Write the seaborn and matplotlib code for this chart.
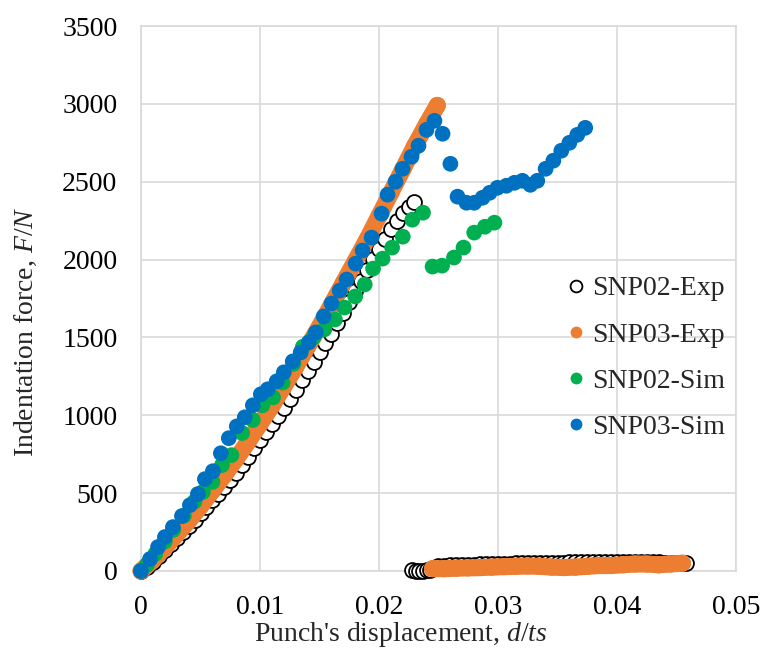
import numpy as np
import pandas as pd
import matplotlib
matplotlib.use("Agg")
import matplotlib.pyplot as plt
import seaborn as sns

# punch test: force vs. normalised displacement, experiment and simulation

sns.set_style("white")
plt.rcParams['font.family'] = ['Liberation Serif', 'DejaVu Serif']
plt.rcParams['mathtext.fontset'] = 'custom'
plt.rcParams['mathtext.it'] = 'Liberation Serif:italic'
plt.rcParams['mathtext.rm'] = 'Liberation Serif'

# SNP02 experiment, loading branch
snp02_exp_x = [0, 0.0005, 0.001, 0.0015, 0.002, 0.0025, 0.003, 0.0035, 0.004, 0.0045,
               0.005, 0.0055, 0.006, 0.0065, 0.007, 0.0075, 0.008, 0.0085, 0.009, 0.0095,
               0.010, 0.0105, 0.011, 0.0115, 0.012, 0.0125, 0.013, 0.0135, 0.014, 0.0145,
               0.015, 0.0155, 0.016, 0.0165, 0.017, 0.0175, 0.018, 0.0185, 0.019, 0.0195,
               0.020, 0.0205, 0.021, 0.0215, 0.022, 0.0225, 0.0229]
snp02_exp_F = [0, 28, 60, 97, 135, 175, 215, 252, 290, 330,
               370, 412, 455, 497, 540, 585, 632, 683, 735, 787,
               840, 893, 945, 995, 1045, 1105, 1165, 1225, 1285, 1345,
               1405, 1465, 1525, 1592, 1660, 1727, 1795, 1865, 1935, 2003,
               2070, 2135, 2195, 2250, 2300, 2340, 2370]
# SNP02 experiment, after failure
snp02_tail_x = [0.0228, 0.0231, 0.0234, 0.0237, 0.0240, 0.0243, 0.0246, 0.0250, 0.0255, 0.0260,
                0.0265, 0.0270, 0.0275, 0.0280, 0.0285, 0.0290, 0.0295, 0.0300, 0.0305, 0.0310,
                0.0315, 0.0320, 0.0325, 0.0330, 0.0335, 0.0340, 0.0345, 0.0350, 0.0355, 0.0360,
                0.0365, 0.0370, 0.0375, 0.0380, 0.0385, 0.0390, 0.0395, 0.0400, 0.0405, 0.0410,
                0.0415, 0.0420, 0.0425, 0.0430, 0.0435, 0.0440, 0.0445, 0.0450, 0.0455, 0.0458]
snp02_tail_F = [5, 3, 2, 2, 4, 8, 20, 32, 34, 36,
                38, 39, 40, 41, 42, 43, 45, 46, 47, 48,
                49, 50, 51, 51, 52, 52, 53, 54, 54, 55,
                55, 56, 57, 57, 58, 58, 59, 59, 58, 58,
                57, 57, 56, 55, 55, 54, 53, 52, 52, 50]

# SNP03 experiment, loading branch
snp03_exp_x = [0, 0.001, 0.002, 0.003, 0.004, 0.005, 0.006, 0.007, 0.008, 0.009,
               0.010, 0.011, 0.012, 0.013, 0.014, 0.015, 0.016, 0.017, 0.018, 0.019,
               0.020, 0.021, 0.022, 0.023, 0.024, 0.0249]
snp03_exp_F = [0, 70, 150, 235, 320, 415, 515, 615, 720, 830,
               945, 1060, 1185, 1310, 1440, 1570, 1710, 1850, 1990, 2130,
               2280, 2430, 2580, 2730, 2870, 2990]
# SNP03 experiment, after failure
snp03_tail_x = [0.0245, 0.0255, 0.0265, 0.0275, 0.0285, 0.0295, 0.0305, 0.0315, 0.0325, 0.0335,
                0.0345, 0.0355, 0.0365, 0.0375, 0.0385, 0.0395, 0.0405, 0.0415, 0.0425, 0.0435,
                0.0445, 0.0455]
snp03_tail_F = [15, 15, 18, 20, 22, 25, 28, 30, 32, 30,
                25, 22, 25, 30, 35, 35, 40, 45, 45, 40,
                45, 50]

# SNP02 simulation
snp02_sim_x = [0, 0.0005, 0.0012, 0.002, 0.0027, 0.0036, 0.0045, 0.0052, 0.006, 0.0068,
               0.0076, 0.0085, 0.0094, 0.0102, 0.0111, 0.0119, 0.0128, 0.0136, 0.0145, 0.0154,
               0.0163, 0.0171, 0.018, 0.0188, 0.0195, 0.0203, 0.0211, 0.022, 0.0228, 0.0237,
               0.0245, 0.0253, 0.0263, 0.0271, 0.028, 0.0289, 0.0297]
snp02_sim_F = [0, 40, 110, 190, 264, 355, 446, 508, 572, 680,
               744, 886, 970, 1064, 1115, 1210, 1330, 1440, 1500, 1551,
               1615, 1692, 1763, 1840, 1942, 2006, 2077, 2147, 2256, 2301,
               1955, 1961, 2013, 2077, 2173, 2211, 2237]

# SNP03 simulation
snp03_sim_x = [0, 0.00076, 0.00143, 0.00201, 0.00268, 0.00344, 0.00411, 0.00478, 0.00537, 0.00604,
               0.00671, 0.00738, 0.00805, 0.00872, 0.0094, 0.01007, 0.01065, 0.0114, 0.012, 0.01275,
               0.01342, 0.0141, 0.01468, 0.01535, 0.01602, 0.0167, 0.01728, 0.01804, 0.01862, 0.01938,
               0.02022, 0.02072, 0.02139, 0.02198, 0.02273, 0.02332, 0.02399, 0.02466, 0.02534, 0.026,
               0.0266, 0.02735, 0.028, 0.0287, 0.0293, 0.02995, 0.0307, 0.03138, 0.03205, 0.03272,
               0.0333, 0.034, 0.03465, 0.03532, 0.036, 0.03666, 0.03733]
snp03_sim_F = [0, 77, 154, 218, 282, 353, 423, 494, 590, 641,
               756, 853, 929, 987, 1064, 1135, 1167, 1218, 1276, 1346,
               1404, 1468, 1532, 1635, 1718, 1801, 1872, 1974, 2058, 2141,
               2295, 2417, 2500, 2583, 2660, 2731, 2833, 2891, 2808, 2615,
               2404, 2365, 2365, 2397, 2429, 2461, 2474, 2493, 2506, 2480,
               2506, 2583, 2635, 2699, 2750, 2801, 2846]

x_ticks = [0, 0.01, 0.02, 0.03, 0.04, 0.05]
x_tick_labels = ['0', '0.01', '0.02', '0.03', '0.04', '0.05']
y_ticks = [0, 500, 1000, 1500, 2000, 2500, 3000, 3500]

black = '#000000'
orange = '#ED7D31'
green = '#00B050'
blue = '#0070C0'
grid_col = '#D9D9D9'

fig = plt.figure(figsize=(7.64, 6.59), dpi=100)
ax = fig.add_axes([141/764, 1 - 571/659, (736-141)/764, (571-26)/659])

ms = 11.3  # marker diameter in points
s = ms**2

# SNP02-Exp: open circles
for xs, fs in [(snp02_exp_x, snp02_exp_F), (snp02_tail_x, snp02_tail_F)]:
    sns.scatterplot(x=xs, y=fs, ax=ax, s=s*0.9, marker='o', facecolor='white',
                    edgecolor=black, linewidth=1.3, clip_on=False, zorder=3)

# SNP03-Exp: dense orange band
for xs, fs in [(snp03_exp_x, snp03_exp_F), (snp03_tail_x, snp03_tail_F)]:
    ax.plot(xs, fs, color=orange, lw=12.3, solid_capstyle='round', solid_joinstyle='round',
            clip_on=False, zorder=4)
    sns.scatterplot(x=xs, y=fs, ax=ax, s=12.3**2, color=orange, edgecolor='none',
                    clip_on=False, zorder=4)

sns.scatterplot(x=snp02_sim_x, y=snp02_sim_F, ax=ax, s=s, color=green, edgecolor='none',
                clip_on=False, zorder=5)
sns.scatterplot(x=snp03_sim_x, y=snp03_sim_F, ax=ax, s=s, color=blue, edgecolor='none',
                clip_on=False, zorder=6)

ax.set_xlim(0, 0.05)
ax.set_ylim(0, 3500)
ax.set_xticks(x_ticks)
ax.set_xticklabels(x_tick_labels)
ax.set_yticks(y_ticks)
ax.grid(True, color=grid_col, lw=1.2)
ax.set_axisbelow(True)
for sp in ax.spines.values():
    sp.set_color(grid_col)
    sp.set_linewidth(1.2)
ax.tick_params(axis='both', length=0, labelsize=20, colors='black')
ax.tick_params(axis='y', pad=17)
ax.tick_params(axis='x', pad=17)

ax.set_xlabel("Punch's displacement, $d/ts$", fontsize=20)
ax.xaxis.set_label_coords((401-141)/(736-141), -0.09)
ax.set_ylabel("Indentation force, $F/N$", fontsize=20)
ax.yaxis.set_label_coords(-0.172, 0.44)

handles = [
    plt.Line2D([], [], ls='none', marker='o', ms=8.5, mfc='white', mec=black, mew=1.3),
    plt.Line2D([], [], ls='none', marker='o', ms=8.5, mfc=orange, mec='none'),
    plt.Line2D([], [], ls='none', marker='o', ms=8.5, mfc=green, mec='none'),
    plt.Line2D([], [], ls='none', marker='o', ms=8.5, mfc=blue, mec='none'),
]
labels = ['SNP02-Exp', 'SNP03-Exp', 'SNP02-Sim', 'SNP03-Sim']
ax.legend(handles, labels, frameon=False, fontsize=20, loc='upper left',
          bbox_to_anchor=(555/764, 1 - 262/659), bbox_transform=fig.transFigure,
          handlelength=0.5, handletextpad=0.35, labelspacing=0.75, borderpad=0)

fig.savefig('out.png', dpi=100)
